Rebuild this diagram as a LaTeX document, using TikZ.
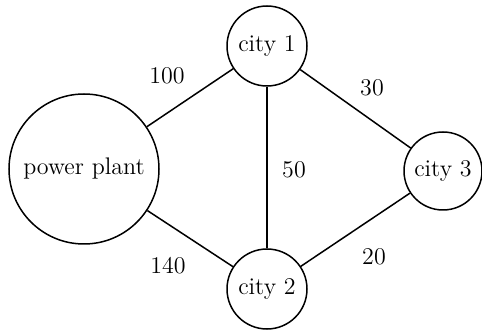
\documentclass[tikz,border=0pt]{standalone}
\begin{document}
\begin{tikzpicture}[x=0.5pt,y=-0.5pt,
  city/.style={draw,circle,line width=0.75pt,inner sep=0pt,minimum size=40pt,font=\fontsize{12}{14}\selectfont},
  link/.style={line width=0.75pt},
  wt/.style={font=\fontsize{12}{14}\selectfont,inner sep=0pt}]
\useasboundingbox (0,0) rectangle (482,331);
\node[city,minimum size=75pt] (pp) at (84,169) {power plant};
\node[city] (c1) at (267,46) {city 1};
\node[city] (c2) at (267,289) {city 2};
\node[city,minimum size=39pt] (c3) at (443,171) {city 3};
\draw[link] (pp) -- (c1);
\draw[link] (pp) -- (c2);
\draw[link] (c1) -- (c2);
\draw[link] (c1) -- (c3);
\draw[link] (c2) -- (c3);
\node[wt] (w100) at (167,76) {100};
\node[wt] (w30) at (372,88) {30};
\node[wt] (w50) at (294,170) {50};
\node[wt] (w140) at (168,266) {140};
\node[wt] (w20) at (374,257) {20};
\end{tikzpicture}
\end{document}
